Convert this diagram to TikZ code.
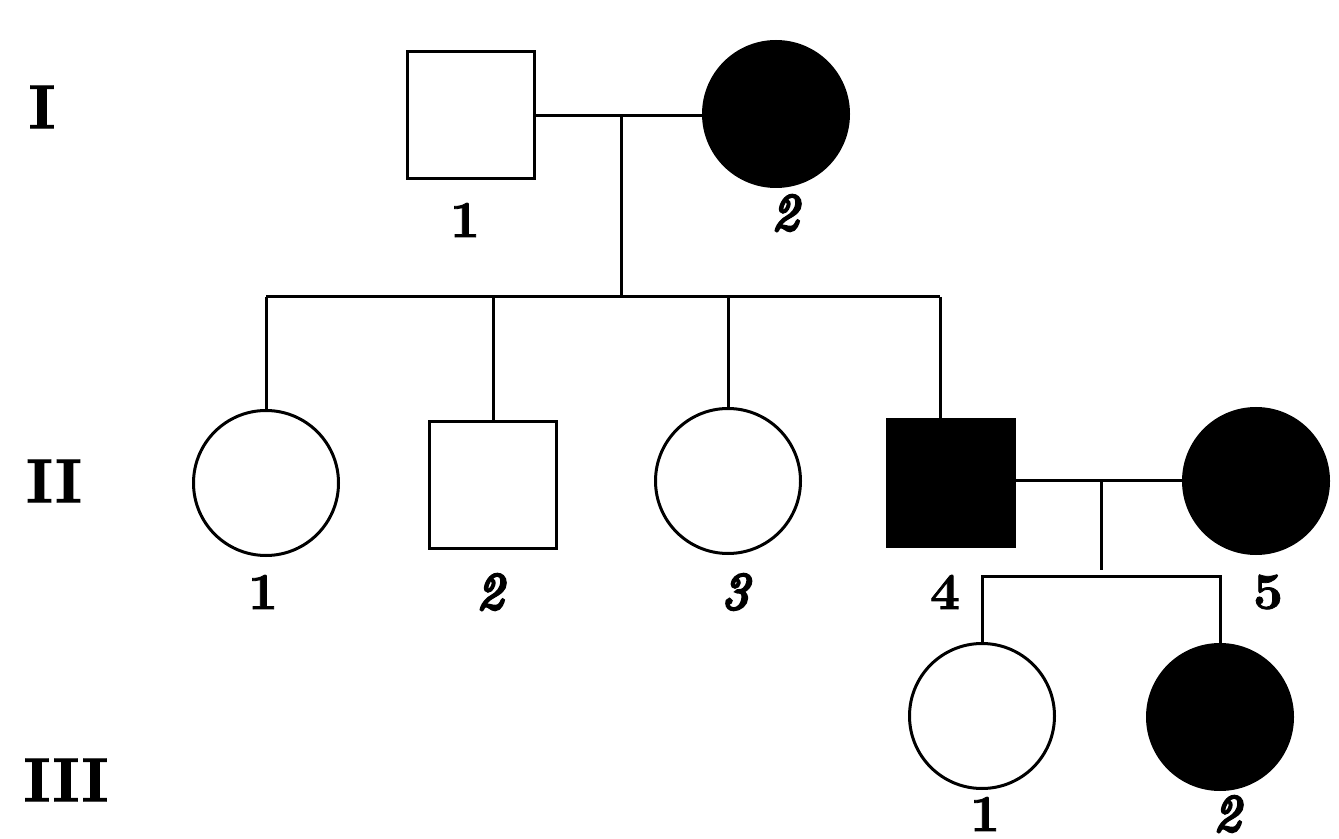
\documentclass[tikz,border=0pt]{standalone}
\usepackage{fontspec}
\newfontface\bitfont{lmroman10-italic}[Extension=.otf,FakeBold=5.5]
\newfontface\bupfont{lmroman10-bold}[Extension=.otf,FakeBold=1.5]
\begin{document}
\begin{tikzpicture}[x=0.5pt,y=-0.5pt,line width=1.5pt,
  male/.style={draw,rectangle,minimum size=63.5pt,inner sep=0pt,outer sep=0pt},
  female/.style={draw,circle,minimum size=72.5pt,inner sep=0pt,outer sep=0pt},
  aff/.style={fill=black},
  num/.style={font=\bupfont\fontsize{26}{28}\selectfont,inner sep=0pt},
  inum/.style={font=\bitfont\fontsize{26}{28}\selectfont,inner sep=0pt},
  gen/.style={font=\bupfont\fontsize{31}{34}\selectfont,inner sep=0pt}]
\useasboundingbox (0,0) rectangle (1339,839);
% generation labels
\node[gen] (gI) at (42,107) {I};
\node[gen] (gII) at (54,481) {II};
\node[gen] (gIII) at (66,780) {III};
% generation I
\node[male] (I1) at (471,115) {};
\node[female,aff] (I2) at (776,114) {};
\coordinate (m1) at (621,116);
\coordinate (s1) at (621,297);
\draw (I1.east |- m1) -- (I2.west |- m1);
\draw (m1) -- (s1);
% generation II
\node[female] (II1) at (266,483) {};
\node[male] (II2) at (493,485) {};
\node[female] (II3) at (728,481) {};
\node[male,aff] (II4) at (951,483) {};
\node[female,aff] (II5) at (1256,481) {};
\coordinate (sl) at (266,297);
\coordinate (sr) at (940,297);
\draw (sl) -- (sr);
\draw (sl) -- (II1.north);
\draw (II2.north |- sl) -- (II2.north);
\draw (II3.north |- sl) -- (II3.north);
\draw (sr) -- (sr |- II4.north);
\coordinate (m2) at (1101,481);
\coordinate (s2) at (1101,570);
\draw (II4.east |- m2) -- (II5.west |- m2);
\draw (m2) -- (s2);
% generation III
\node[female] (III1) at (982,716) {};
\node[female,aff] (III2) at (1220,717) {};
\coordinate (tl) at (982,576);
\coordinate (tr) at (1220,576);
\draw (III1.north) -- (tl) -- (tr) -- (III2.north);
% labels
\node[num] (lI1) at (465,220) {1};
\node[inum] (lI2) at (785,213) {2};
\node[num] (lII1) at (263,592) {1};
\node[inum] (lII2) at (490,592) {2};
\node[inum] (lII3) at (735,592) {3};
\node[num] (lII4) at (945,592) {4};
\node[num] (lII5) at (1268,592) {5};
\node[num] (lIII1) at (985,814) {1};
\node[inum] (lIII2) at (1227,814) {2};
\end{tikzpicture}
\end{document}
